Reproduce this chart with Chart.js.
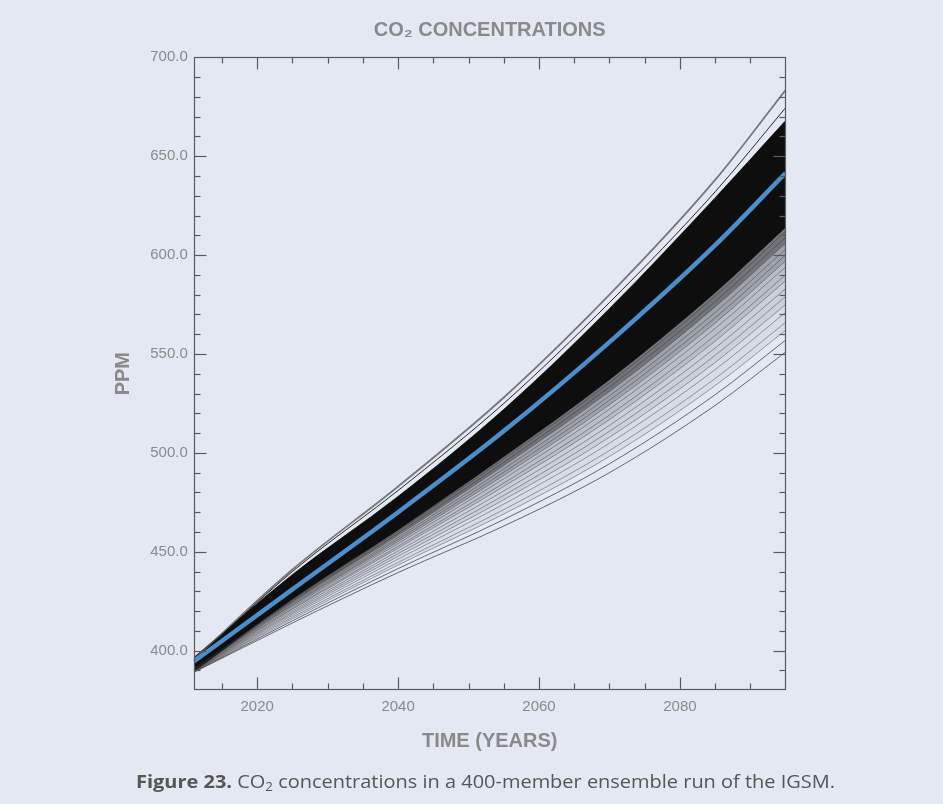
<!DOCTYPE html>
<html><head><meta charset="utf-8">
<script src="https://cdn.jsdelivr.net/npm/chart.js@4.4.1/dist/chart.umd.min.js"></script>
<style>
html,body{margin:0;padding:0;background:#e3e8f3;}
#wrap{position:relative;width:943px;height:804px;overflow:hidden;background:#e3e8f3;}
#c{position:absolute;left:0;top:0;}
#cap{position:absolute;left:136px;top:768px;font-family:'Open Sans',sans-serif;font-size:18px;line-height:26px;color:#565656;white-space:nowrap;transform-origin:0 0;}
#cap b{font-weight:700;}
#cap .sub{font-size:12px;vertical-align:-3px;}
</style></head><body>
<div id="wrap"><canvas id="c" width="943" height="804"></canvas>
<div id="cap"><b>Figure 23.</b> CO<span class="sub">2</span> concentrations in a 400-member ensemble run of the IGSM.</div></div>
<script>
// ---- data (ppm) ----
const years = [2011, 2025, 2040, 2055, 2070, 2085, 2095];
const ensembleMean = [394.5, 431, 470, 511, 556, 605, 641.5];
const highestRun   = [395.5, 441, 483, 528, 580, 638, 683.5];
const upperEdgeRun = [395, 440, 481, 525, 576, 632, 674.5];
const coreTop      = [396.5, 438.5, 478, 522, 573, 629, 668];
const coreBottom   = [389.5, 426, 461, 498, 537, 581, 614];
const lowerRuns = [
  [389, 414, 439.5, 463, 490, 524, 551],
  [389.2, 415.1, 441.5, 466.3, 494.5, 529.4, 557],
  [389.4, 416.1, 443.3, 469.1, 498.2, 534, 562],
  [389.5, 416.9, 444.6, 471.3, 501.2, 537.6, 566],
  [389.6, 417.8, 446.3, 474.1, 504.9, 542.1, 571],
  [389.8, 418.6, 447.7, 476.3, 507.9, 545.7, 575],
  [389.9, 419.3, 449.1, 478.5, 510.9, 549.3, 579],
  [390, 420.1, 450.4, 480.8, 513.9, 553, 583],
  [390.1, 420.9, 451.8, 483, 516.8, 556.5, 587],
  [390.2, 421.4, 452.8, 484.7, 519.1, 559.3, 590],
  [390.4, 422.2, 454.2, 486.9, 522.1, 562.9, 594],
  [390.5, 422.8, 455.2, 488.6, 524.3, 565.6, 597],
  [390.6, 423.3, 456.2, 490.2, 526.6, 568.3, 600],
  [390.7, 423.9, 457.2, 491.9, 528.8, 571, 603],
  [390.7, 424.5, 458.3, 493.6, 531, 573.8, 606],
  [390.8, 425, 459.3, 495.2, 533.3, 576.5, 609],
  [390.9, 425.6, 460.3, 496.9, 535.5, 579.2, 612]
];
const xTicks = [2020, 2040, 2060, 2080];
const yTicks = [400, 450, 500, 550, 600, 650, 700];
const xRange = [2011, 2095];
const yRange = [380.1, 700];

// ---- build datasets ----
const pts = arr => arr.map((v, i) => ({x: years[i], y: v}));
const lineBase = {pointRadius: 0, cubicInterpolationMode: 'monotone', fill: false};
const datasets = [];
datasets.push(Object.assign({label: 'Ensemble median', data: pts(ensembleMean), borderColor: '#4a8fcb', borderWidth: 4.5}, lineBase));
datasets.push(Object.assign({label: 'Upper run', data: pts(upperEdgeRun), borderColor: 'rgba(20,20,20,0.9)', borderWidth: 1}, lineBase));
datasets.push(Object.assign({label: 'Highest run', data: pts(highestRun), borderColor: 'rgba(100,100,100,0.85)', borderWidth: 1.8}, lineBase));
const lowerStart = datasets.length;
// gradient shading between successive runs below the dense core
const hazeFill = {14: [11, 'rgba(0,0,0,0.30)'], 11: [8, 'rgba(0,0,0,0.18)'], 8: [5, 'rgba(0,0,0,0.10)'], 5: [2, 'rgba(0,0,0,0.05)']};
lowerRuns.forEach((r, i) => {
  const ds = Object.assign({}, lineBase, {label: 'Run ' + (i + 1), data: pts(r),
    borderColor: i < 2 ? 'rgba(70,70,70,0.8)' : 'rgba(40,40,40,0.42)', borderWidth: 1});
  if (hazeFill[i]) { ds.fill = lowerStart + hazeFill[i][0]; ds.backgroundColor = hazeFill[i][1]; }
  datasets.push(ds);
});
datasets.push({label: 'Core top', data: pts(coreTop), borderColor: 'rgba(0,0,0,0.6)', borderWidth: 1,
  pointRadius: 0, cubicInterpolationMode: 'monotone', fill: '+1', backgroundColor: 'rgba(0,0,0,0.94)'});
datasets.push({label: 'Core bottom', data: pts(coreBottom), borderColor: 'rgba(0,0,0,0.5)', borderWidth: 1,
  pointRadius: 0, cubicInterpolationMode: 'monotone', fill: lowerStart + 14, backgroundColor: 'rgba(0,0,0,0.5)'});

// ---- frame + inward ticks ----
const frameTicks = {
  id: 'frameTicks',
  afterDatasetsDraw(chart) {
    const {ctx, chartArea: a, scales: {x, y}} = chart;
    ctx.save();
    ctx.strokeStyle = '#5a5a5a';
    ctx.lineWidth = 1.2;
    const L = Math.round(a.left) + 0.5, R = Math.round(a.right) - 0.5, T = Math.round(a.top) + 0.5, B = Math.round(a.bottom) - 0.5;
    ctx.strokeRect(L, T, R - L, B - T);
    const seg = (x1, y1, x2, y2) => { ctx.beginPath(); ctx.moveTo(x1, y1); ctx.lineTo(x2, y2); ctx.stroke(); };
    for (let v = 2015; v < xRange[1]; v += 5) {
      const px = Math.round(x.getPixelForValue(v)) + 0.5;
      const len = xTicks.includes(v) ? 12 : 6;
      seg(px, B, px, B - len); seg(px, T, px, T + len);
    }
    for (let v = 390; v < yRange[1]; v += 10) {
      const py = Math.round(y.getPixelForValue(v)) + 0.5;
      const len = yTicks.includes(v) ? 12 : 6;
      seg(L, py, L + len, py); seg(R, py, R - len, py);
    }
    ctx.restore();
  }
};

const tickFont = {family: "'Liberation Sans', Arial, sans-serif", size: 15};
const titleFont = {family: "'Liberation Sans', Arial, sans-serif", size: 20, weight: 'bold'};
const grey = '#8a8a8a';

new Chart(document.getElementById('c'), {
  type: 'line',
  data: {datasets},
  options: {
    responsive: false, animation: false, devicePixelRatio: 1,
    layout: {padding: {left: 0, right: 157.4, top: 0, bottom: 0}},
    plugins: {
      legend: {display: false}, tooltip: {enabled: false},
      title: {display: true, text: 'CO\u2082 CONCENTRATIONS', color: grey, font: titleFont, fullSize: false,
        padding: {top: 18, bottom: 15.3}}
    },
    scales: {
      x: {type: 'linear', min: xRange[0], max: xRange[1],
        grid: {display: false, drawTicks: false}, border: {display: false},
        afterBuildTicks: s => { s.ticks = xTicks.map(v => ({value: v})); },
        afterFit: s => { s.height = 114; },
        ticks: {color: grey, font: tickFont, padding: 8, maxRotation: 0, callback: v => String(v)},
        title: {display: true, text: 'TIME (YEARS)', color: grey, font: titleFont, padding: {top: 0, bottom: 51}}
      },
      y: {type: 'linear', min: yRange[0], max: yRange[1],
        grid: {display: false, drawTicks: false}, border: {display: false},
        afterBuildTicks: s => { s.ticks = yTicks.map(v => ({value: v})); },
        afterFit: s => { s.width = 193.8; },
        ticks: {color: grey, font: tickFont, padding: 6, callback: v => Number(v).toFixed(1)},
        title: {display: true, text: 'PPM', color: grey, font: titleFont, padding: {top: 111, bottom: 0}}
      }
    }
  },
  plugins: [frameTicks]
});

// fit caption width to the figure
const cap = document.getElementById('cap');
const w = cap.getBoundingClientRect().width;
cap.style.transform = 'scaleX(' + (699 / w) + ')';
</script>
</body></html>
